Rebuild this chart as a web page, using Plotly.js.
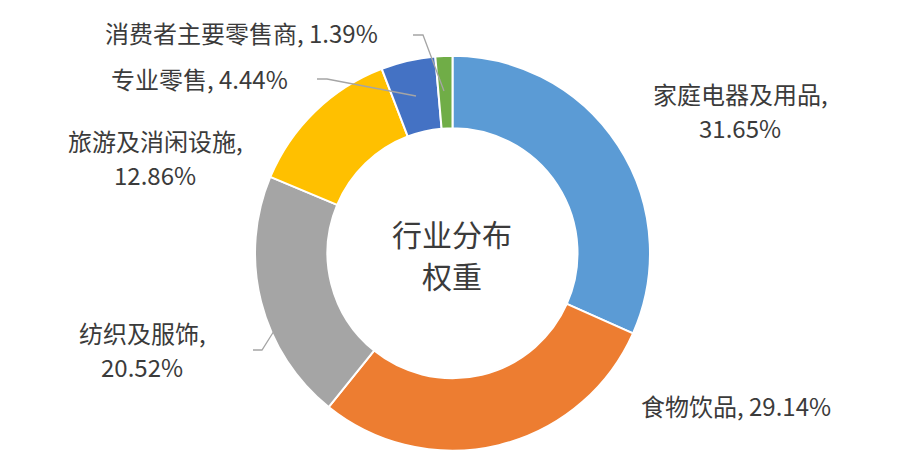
<!DOCTYPE html>
<html>
<head>
<meta charset="utf-8">
<script src="https://cdn.plot.ly/plotly-3.0.1.min.js"></script>
<style>
  html, body { margin: 0; padding: 0; background: #fff; }
  #chart { width: 906px; height: 464px; }
</style>
</head>
<body>
<div id="chart"></div>
<script>
var sectors = ['家庭电器及用品', '食物饮品', '纺织及服饰', '旅游及消闲设施', '专业零售', '消费者主要零售商'];
var weights = [31.65, 29.14, 20.52, 12.86, 4.44, 1.39];
var colors = ['#5B9BD5', '#ED7D31', '#A5A5A5', '#FFC000', '#4472C4', '#70AD47'];
var centerText = ['行业分布', '权重'];

var W = 906, H = 464;
function px(x) { return x / W; }
function py(y) { return 1 - y / H; }

// where each label goes (pixels), split = put the value on a second line
var labelPos = [
  {x: 740, y: 93, split: true},
  {x: 736, y: 405, split: false},
  {x: 142, y: 332, split: true},
  {x: 155, y: 140, split: true},
  {x: 199, y: 79, split: false},
  {x: 242, y: 33, split: false}
];

var txtFont = {family: 'Noto Sans CJK SC, sans-serif', size: 24, color: '#3b3b3b'};
var annotations = [];
sectors.forEach(function(name, i) {
  var p = labelPos[i];
  var pct = weights[i].toFixed(2) + '%';
  if (p.split) {
    annotations.push({text: name + ',', x: px(p.x), y: py(p.y)});
    annotations.push({text: pct, x: px(p.x), y: py(p.y + 34)});
  } else {
    annotations.push({text: name + ', ' + pct, x: px(p.x), y: py(p.y)});
  }
});
annotations.forEach(function(a) {
  a.xref = 'paper'; a.yref = 'paper'; a.showarrow = false;
  a.xanchor = 'center'; a.yanchor = 'middle'; a.font = txtFont;
});
annotations.push({text: centerText[0], x: px(452), y: py(233), xref: 'paper', yref: 'paper',
  showarrow: false, xanchor: 'center', yanchor: 'middle',
  font: {family: 'Noto Sans CJK SC, sans-serif', size: 30, color: '#3b3b3b'}});
annotations.push({text: centerText[1], x: px(452), y: py(275), xref: 'paper', yref: 'paper',
  showarrow: false, xanchor: 'center', yanchor: 'middle',
  font: {family: 'Noto Sans CJK SC, sans-serif', size: 30, color: '#3b3b3b'}});

// leader lines
function leader(pts) {
  var d = 'M' + pts.map(function(p) { return px(p[0]) + ',' + py(p[1]); }).join(' L');
  return {type: 'path', xref: 'paper', yref: 'paper', path: d,
    line: {color: '#A5A5A5', width: 1.3}};
}
var shapes = [
  leader([[413, 35], [423, 35], [444, 91]]),
  leader([[317, 79], [327, 79], [416, 96]]),
  leader([[253, 350], [262, 350], [274, 331]])
];

var layout = {
  width: W, height: H,
  margin: {l: 0, r: 0, t: 0, b: 0},
  paper_bgcolor: '#ffffff',
  showlegend: false,
  annotations: annotations,
  shapes: shapes
};

Plotly.newPlot('chart', [{
  type: 'pie',
  labels: sectors,
  values: weights,
  hole: 0.633,
  sort: false,
  direction: 'clockwise',
  rotation: 0,
  textinfo: 'none',
  hoverinfo: 'skip',
  marker: {colors: colors, line: {color: '#ffffff', width: 2}},
  domain: {x: [255 / W, 650 / W], y: [py(450.7), py(55.7)]}
}], layout, {staticPlot: true});
</script>
</body>
</html>
